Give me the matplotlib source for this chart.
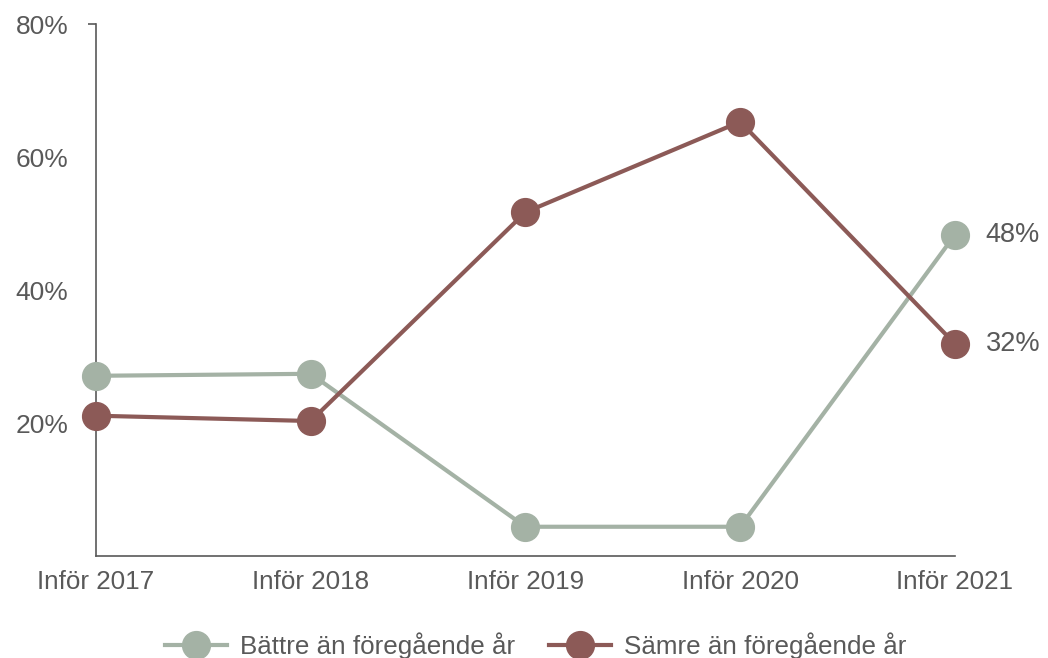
import matplotlib.pyplot as plt

# data
years = ["Inför 2017", "Inför 2018", "Inför 2019", "Inför 2020", "Inför 2021"]
battre = [27.1, 27.4, 4.4, 4.4, 48.3]
samre = [21.1, 20.3, 51.7, 65.3, 31.9]
y_ticks = [20, 40, 60, 80]
y_labels = ["20%", "40%", "60%", "80%"]

green = "#a4b2a5"
brown = "#8c5a57"
grey = "#595959"

plt.rcParams['font.family'] = ['Liberation Sans', 'DejaVu Sans']

fig = plt.figure(figsize=(10.48, 6.58), dpi=100)
ax = fig.add_axes([0.0916, 0.155, 0.8196, 0.8085])

x = list(range(len(years)))
ax.plot(x, battre, color=green, lw=3, marker="o", ms=20, label="Bättre än föregående år",
        clip_on=False, zorder=3)
ax.plot(x, samre, color=brown, lw=3, marker="o", ms=20, label="Sämre än föregående år",
        clip_on=False, zorder=3)

# labels at last point
ax.annotate(f"{battre[-1]:.0f}%", (x[-1], battre[-1]), xytext=(22, 0), textcoords="offset points",
            va="center", ha="left", fontsize=19.5, color=grey)
ax.annotate(f"{samre[-1]:.0f}%", (x[-1], samre[-1]), xytext=(22, 0), textcoords="offset points",
            va="center", ha="left", fontsize=19.5, color=grey)

ax.set_xlim(0, len(years) - 1)
ax.set_ylim(0, 80)
ax.set_xticks(x)
ax.set_xticklabels(years)
ax.set_yticks(y_ticks)
ax.set_yticklabels(y_labels)

for s in ["top", "right"]:
    ax.spines[s].set_visible(False)
for s in ["left", "bottom"]:
    ax.spines[s].set_color(grey)
    ax.spines[s].set_linewidth(1.2)

ax.tick_params(axis="x", length=0, pad=10, labelsize=18.7, labelcolor=grey)
ax.tick_params(axis="y", length=6, width=1.2, color=grey, pad=14, labelsize=19, labelcolor=grey)
# only the top tick is drawn
for t in ax.yaxis.get_major_ticks()[:-1]:
    t.tick1line.set_visible(False)

fig.legend(loc="lower center", bbox_to_anchor=(0.511, -0.037), ncol=2, frameon=False,
           fontsize=18.7, labelcolor=grey, handlelength=2.4, columnspacing=1.3,
           handletextpad=0.5)

fig.savefig("out.png", dpi=100)
